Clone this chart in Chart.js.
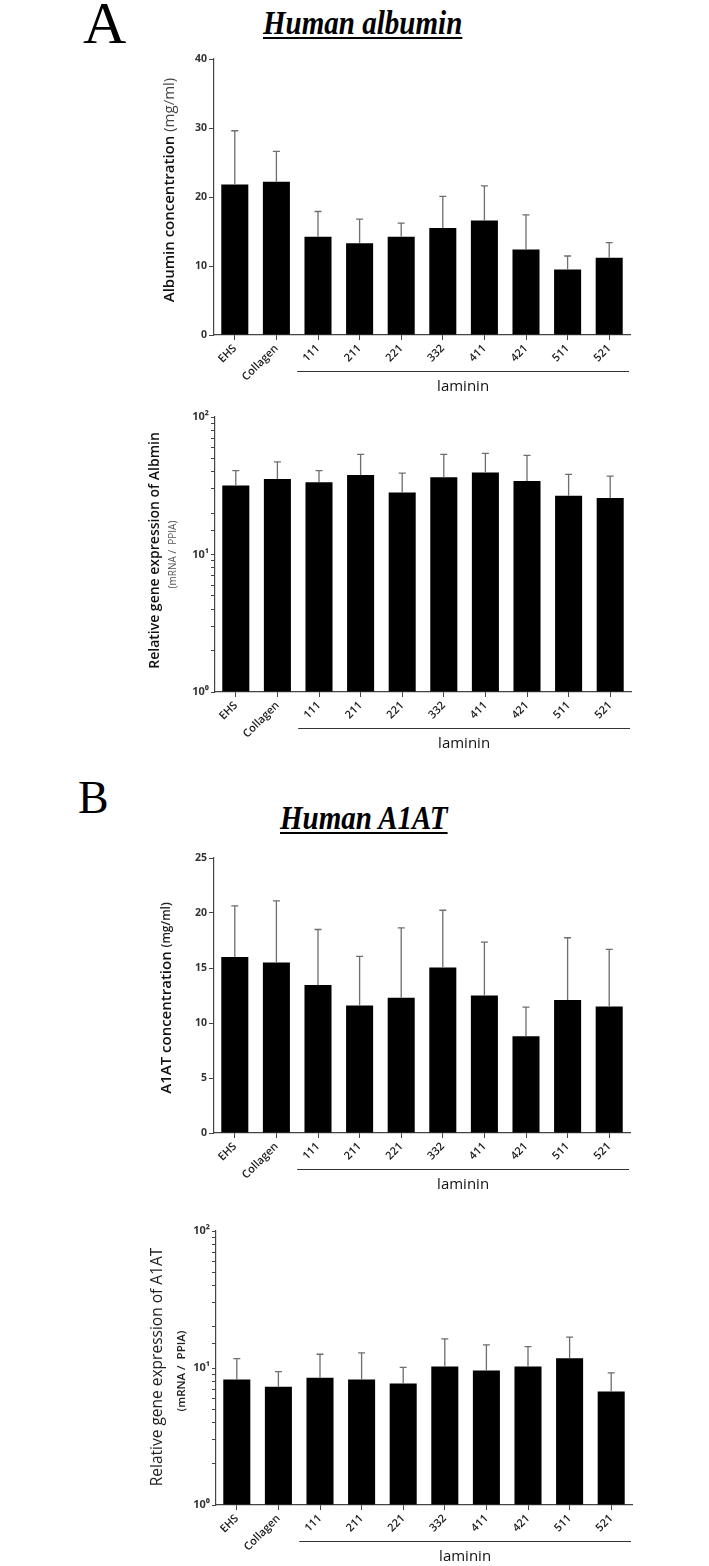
<!DOCTYPE html>
<html>
<head>
<meta charset="utf-8">
<script src="https://cdn.jsdelivr.net/npm/chart.js@4.4.1/dist/chart.umd.min.js"></script>
<style>
  body { margin: 0; background: #fff; }
  #page { position: relative; width: 709px; height: 1566px; overflow: hidden; }
  .panel { position: absolute; left: 0; }
  .letter { position: absolute; font-family: 'Liberation Serif', 'Times New Roman', serif; line-height: 1; color: #000; }
  .title {
    position: absolute; font-family: 'Liberation Serif', 'Times New Roman', serif;
    font-weight: bold; font-style: italic; font-size: 33px; line-height: 1; white-space: nowrap; color: #000;
    text-decoration: underline; text-decoration-thickness: 2px; text-underline-offset: 3px;
    transform: scaleX(0.88); transform-origin: left top;
  }
</style>
</head>
<body>
<div id="page">
  <div class="letter" style="left:83px; top:-7px; font-size:60px;">A</div>
  <div class="title" style="left:263px; top:7px;">Human albumin</div>
  <div class="panel" style="top:50px;"><canvas id="albConc" width="709" height="350"></canvas></div>
  <div class="panel" style="top:405px;"><canvas id="albExpr" width="709" height="355"></canvas></div>

  <div class="letter" style="left:78px; top:775px; font-size:46px;">B</div>
  <div class="title" style="left:280px; top:802px;">Human A1AT</div>
  <div class="panel" style="top:845px;"><canvas id="a1atConc" width="709" height="355"></canvas></div>
  <div class="panel" style="top:1215px;"><canvas id="a1atExpr" width="709" height="351"></canvas></div>
</div>

<script>
// groups on the x axis (EHS, collagen, then laminin isoforms)
const groups = ['EHS', 'Collagen', '111', '211', '221', '332', '411', '421', '511', '521'];

// A - albumin secreted (mg/ml), mean and SD
const albConcMean = [21.8, 22.2, 14.25, 13.3, 14.25, 15.5, 16.6, 12.4, 9.5, 11.2];
const albConcSD   = [7.8, 4.4, 3.65, 3.5, 1.95, 4.6, 5.0, 5.0, 1.95, 2.2];

// A - albumin mRNA / PPIA
const albExprMean = [31.7, 35.4, 33.5, 37.9, 28.2, 36.4, 39.4, 34.2, 26.8, 25.8];
const albExprSD   = [9.0, 11.7, 7.2, 15.6, 10.9, 17.1, 15.0, 18.4, 11.5, 11.4];

// B - A1AT secreted (mg/ml)
const a1atConcMean = [16.0, 15.5, 13.45, 11.6, 12.3, 15.05, 12.5, 8.8, 12.1, 11.5];
const a1atConcSD   = [4.65, 5.6, 5.05, 4.45, 6.35, 5.2, 4.85, 2.65, 5.65, 5.2];

// B - A1AT mRNA / PPIA
const a1atExprMean = [8.25, 7.3, 8.5, 8.25, 7.7, 10.25, 9.6, 10.25, 11.8, 6.75];
const a1atExprSD   = [3.45, 2.1, 4.1, 4.65, 2.4, 6.05, 5.15, 4.05, 5.0, 2.45];

// y axis ranges / tick labels
const albConcAxis  = { min: 0, max: 40, step: 10 };
const a1atConcAxis = { min: 0, max: 25, step: 5 };
const logAxis      = { min: 1, max: 100 };
const supDigits = ['\u2070', '\u00B9', '\u00B2'];

const FONT = "'Open Sans', sans-serif";
Chart.defaults.font.family = FONT;
Chart.defaults.color = '#222';

// error bars, rotated y title and the "laminin" bracket
const decorPlugin = {
  id: 'decor',
  afterDatasetsDraw(chart, args, opts) {
    const ctx = chart.ctx;
    const ys = chart.scales.y;
    const meta = chart.getDatasetMeta(0);
    const vals = chart.data.datasets[0].data;
    ctx.save();
    ctx.strokeStyle = '#6e6e6e';
    ctx.lineWidth = 1.3;
    meta.data.forEach((bar, i) => {
      const yBar = ys.getPixelForValue(vals[i]);
      const yTop = ys.getPixelForValue(vals[i] + opts.sd[i]);
      ctx.beginPath();
      ctx.moveTo(bar.x, yBar);
      ctx.lineTo(bar.x, yTop);
      ctx.moveTo(bar.x - 3.5, yTop);
      ctx.lineTo(bar.x + 3.5, yTop);
      ctx.stroke();
    });
    ctx.restore();
  },
  afterDraw(chart, args, opts) {
    const ctx = chart.ctx;
    const a = chart.chartArea;
    const xs = chart.scales.x;
    ctx.save();

    // y title, possibly two lines and mixed fonts
    const cy = (a.top + a.bottom) / 2;
    opts.yTitle.forEach(line => {
      let total = 0;
      line.parts.forEach(p => { ctx.font = p.font; p.w = ctx.measureText(p.t).width; total += p.w; });
      ctx.save();
      ctx.translate(a.left + line.dx, cy + line.dy);
      ctx.rotate(-Math.PI / 2);
      ctx.textBaseline = 'middle';
      ctx.textAlign = 'left';
      let x = -total / 2;
      line.parts.forEach(p => {
        ctx.font = p.font;
        ctx.fillStyle = p.c;
        ctx.fillText(p.t, x, 0);
        x += p.w;
      });
      ctx.restore();
    });

    // laminin bracket
    const x0 = (xs.getPixelForValue(1) + xs.getPixelForValue(2)) / 2;
    const x1 = a.right - 1;
    const yl = a.bottom + 36.5;
    ctx.strokeStyle = '#333';
    ctx.lineWidth = 1.2;
    ctx.beginPath();
    ctx.moveTo(x0, yl);
    ctx.lineTo(x1, yl);
    ctx.stroke();
    ctx.font = '15px ' + FONT;
    ctx.fillStyle = '#111';
    ctx.textAlign = 'center';
    ctx.textBaseline = 'middle';
    ctx.fillText('laminin', (x0 + x1) / 2, a.bottom + 52);
    ctx.restore();
  }
};

function makePanel(id, area, mean, sd, yAxis, yTitle) {
  const canvas = document.getElementById(id);
  const H = canvas.height;
  const xh = 60;
  const isLog = yAxis.type === 'logarithmic';

  const yScale = {
    type: isLog ? 'logarithmic' : 'linear',
    min: yAxis.min,
    max: yAxis.max,
    afterFit: s => { s.width = area.left; },
    grid: { display: true, drawOnChartArea: false, color: '#444', tickLength: isLog ? 4 : 5, lineWidth: 1 },
    border: { display: true, color: '#444', width: 1.2 },
    ticks: {
      autoSkip: false,
      padding: 2,
      color: '#333',
      font: { size: isLog ? 11 : 10.5, weight: 'bold' },
      callback: isLog
        ? v => {
            const l = Math.log10(v);
            return Math.abs(l - Math.round(l)) < 1e-9 ? '10' + supDigits[Math.round(l)] : '';
          }
        : v => v
    }
  };
  if (!isLog) yScale.ticks.stepSize = yAxis.step;

  return new Chart(canvas, {
    type: 'bar',
    data: {
      labels: groups,
      datasets: [{
        data: mean,
        backgroundColor: '#000',
        borderWidth: 0,
        barPercentage: 0.65,
        categoryPercentage: 1,
        base: isLog ? yAxis.min : 0
      }]
    },
    options: {
      responsive: false,
      animation: false,
      events: [],
      layout: {
        padding: { left: 0, right: 709 - area.right, top: area.top, bottom: H - area.bottom - xh }
      },
      scales: {
        x: {
          type: 'category',
          offset: true,
          afterFit: s => { s.height = xh; },
          grid: { display: true, drawOnChartArea: false, offset: false, color: '#444', tickLength: 5 },
          border: { display: true, color: '#444', width: 1.2 },
          ticks: { minRotation: 45, maxRotation: 45, autoSkip: false, padding: 2, color: '#1a1a1a', font: { size: 11, weight: '600' } }
        },
        y: yScale
      },
      plugins: {
        legend: { display: false },
        tooltip: { enabled: false },
        decor: { sd: sd, yTitle: yTitle }
      }
    },
    plugins: [decorPlugin]
  });
}

// chart areas are in canvas coordinates
makePanel('albConc', { left: 214, right: 630, top: 9, bottom: 285 }, albConcMean, albConcSD,
  albConcAxis,
  [{ dx: -44, dy: -7, parts: [
    { t: 'Albumin concentration ', font: '600 15px ' + FONT, c: '#111' },
    { t: '(mg/ml)', font: '400 15px ' + FONT, c: '#444' }] }]);

makePanel('albExpr', { left: 215, right: 631, top: 12, bottom: 287 }, albExprMean, albExprSD,
  { type: 'logarithmic', min: logAxis.min, max: logAxis.max },
  [{ dx: -60, dy: -4, parts: [{ t: 'Relative gene expression of Albmin', font: '600 14px ' + FONT, c: '#111' }] },
   { dx: -42, dy: 0, parts: [{ t: '(mRNA /  PPIA)', font: '400 10px ' + FONT, c: '#555' }] }]);

makePanel('a1atConc', { left: 214, right: 630, top: 13, bottom: 288 }, a1atConcMean, a1atConcSD,
  a1atConcAxis,
  [{ dx: -47, dy: 2.5, parts: [
    { t: 'A1AT concentration ', font: '600 15px ' + FONT, c: '#111' },
    { t: '(mg/ml)', font: '600 12px ' + FONT, c: '#222' }] }]);

makePanel('a1atExpr', { left: 216, right: 632, top: 16, bottom: 290 }, a1atExprMean, a1atExprSD,
  { type: 'logarithmic', min: logAxis.min, max: logAxis.max },
  [{ dx: -58, dy: -1, parts: [{ t: 'Relative gene expression of A1AT', font: '400 15.5px ' + FONT, c: '#222' }] },
   { dx: -34, dy: 3, parts: [{ t: '(mRNA /  PPIA)', font: '600 11.5px ' + FONT, c: '#222' }] }]);
</script>
</body>
</html>
